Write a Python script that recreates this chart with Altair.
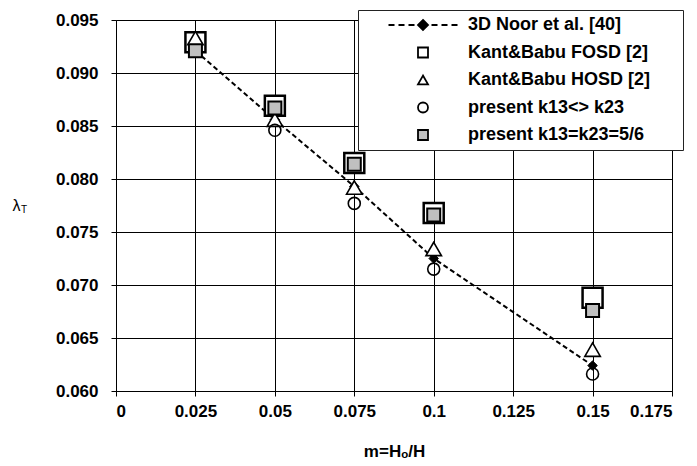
import altair as alt
import pandas as pd

# ---- data ----
x_vals = [0.025, 0.05, 0.075, 0.1, 0.15]
noor = [0.0921, 0.0856, 0.0793, 0.0725, 0.0624]
fosd = [0.0929, 0.0869, 0.0815, 0.0768, 0.0688]
hosd = [0.0933, 0.0856, 0.0792, 0.0734, 0.0639]
present_k = [0.0921, 0.0846, 0.0777, 0.0715, 0.0616]
present_56 = [0.0921, 0.0867, 0.0814, 0.0766, 0.0676]

series_names = [
    "3D Noor et al. [40]",
    "Kant&Babu FOSD [2]",
    "Kant&Babu HOSD [2]",
    "present k13<> k23",
    "present k13=k23=5/6",
]
x_ticks = [0, 0.025, 0.05, 0.075, 0.1, 0.125, 0.15, 0.175]
y_ticks = [0.060, 0.065, 0.070, 0.075, 0.080, 0.085, 0.090, 0.095]

series_vals = [noor, fosd, hosd, present_k, present_56]
frames = [pd.DataFrame({"m": x_vals, "lam": v, "series": n})
          for n, v in zip(series_names, series_vals)]

FONT = "Liberation Sans"

x_enc = alt.X("m:Q", scale=alt.Scale(domain=[0, 0.175], nice=False),
              axis=alt.Axis(values=x_ticks, format=".3~f", title="m=H\u2092/H",
                            labelPadding=7, titlePadding=24))
y_enc = alt.Y("lam:Q", scale=alt.Scale(domain=[0.06, 0.095], nice=False, zero=False),
              axis=alt.Axis(values=y_ticks, format=".3f", title="\u03bb",
                            titleAngle=0, titleX=-100, titleY=185,
                            titleAlign="center", titleBaseline="middle",
                            titleFontWeight="normal", titleFontSize=16,
                            labelPadding=13))

legend_line_path = ("M-6.9,0H-5.7M-4.9,0H-3.7M-2.9,0H-1.7"
                    "M1.7,0H2.9M3.7,0H4.9M5.7,0H6.9"
                    "M0,-1L1,0L0,1L-1,0Z")

shape_scale = alt.Scale(domain=series_names,
                        range=[legend_line_path, "square", "triangle-up", "circle", "square"])
fill_scale = alt.Scale(domain=series_names,
                       range=["black", "white", "white", "transparent", "#c0c0c0"])
stroke_scale = alt.Scale(domain=series_names, range=["black"] * 5)

# invisible blank glyphs widen the legend frame to the reference's width
pad = "\u2800" * 2
legend = alt.Legend(
    title=None, orient="none", legendX=242, legendY=-10,
    padding=6, rowPadding=9.5, labelFontSize=18, labelFont=FONT,
    labelFontWeight="bold", labelColor="black", labelLimit=400, symbolSize=100,
    symbolStrokeWidth=1.8, symbolStrokeColor="black", symbolOffset=50,
    labelOffset=36, strokeColor="#222222", fillColor="white",
    symbolOpacity=1,
    labelExpr="datum.label + '" + pad + "'",
)

line = alt.Chart(frames[0]).mark_line(
    color="black", strokeWidth=2, strokeDash=[5, 3]
).encode(x=x_enc, y=y_enc)

diamonds = alt.Chart(frames[0]).mark_point(
    shape="diamond", filled=True, fill="black", stroke="black",
    size=90, opacity=1, strokeWidth=1
).encode(x=x_enc, y=y_enc)

marker_styles = [
    (1, 400, 2.5),   # FOSD open square
    (2, 240, 1.6),   # HOSD triangle
    (3, 144, 1.6),   # circle
    (4, 169, 2.0),   # grey square
]
point_layers = []
for idx, sz, sw in marker_styles:
    point_layers.append(
        alt.Chart(frames[idx]).mark_point(
            filled=True, opacity=1, size=sz, strokeWidth=sw
        ).encode(
            x=x_enc, y=y_enc,
            shape=alt.Shape("series:N", scale=shape_scale, legend=legend),
            fill=alt.Fill("series:N", scale=fill_scale, legend=legend),
            stroke=alt.Stroke("series:N", scale=stroke_scale, legend=legend),
        )
    )

sub_t = alt.Chart(pd.DataFrame({"t": ["T"]})).mark_text(
    font=FONT, fontSize=10, fill="black", align="center", baseline="middle"
).encode(x=alt.value(-92), y=alt.value(190), text="t:N")

chart = alt.layer(line, diamonds, *point_layers, sub_t).properties(
    width=556, height=371,
    autosize=alt.AutoSizeParams(type="none"),
    padding={"left": 108, "top": 12, "right": 17, "bottom": 74},
).configure_axis(
    labelFont=FONT, labelFontSize=17, labelFontWeight="bold", labelColor="black",
    titleFont=FONT, titleFontSize=17, titleFontWeight="bold", titleColor="black",
    domainColor="black", domainWidth=1, tickColor="black", tickSize=5, tickWidth=1,
    gridColor="black", gridWidth=1, gridOpacity=1,
).configure_view(stroke=None)

chart.save("out.html", embed_options={"renderer": "svg", "actions": False})
